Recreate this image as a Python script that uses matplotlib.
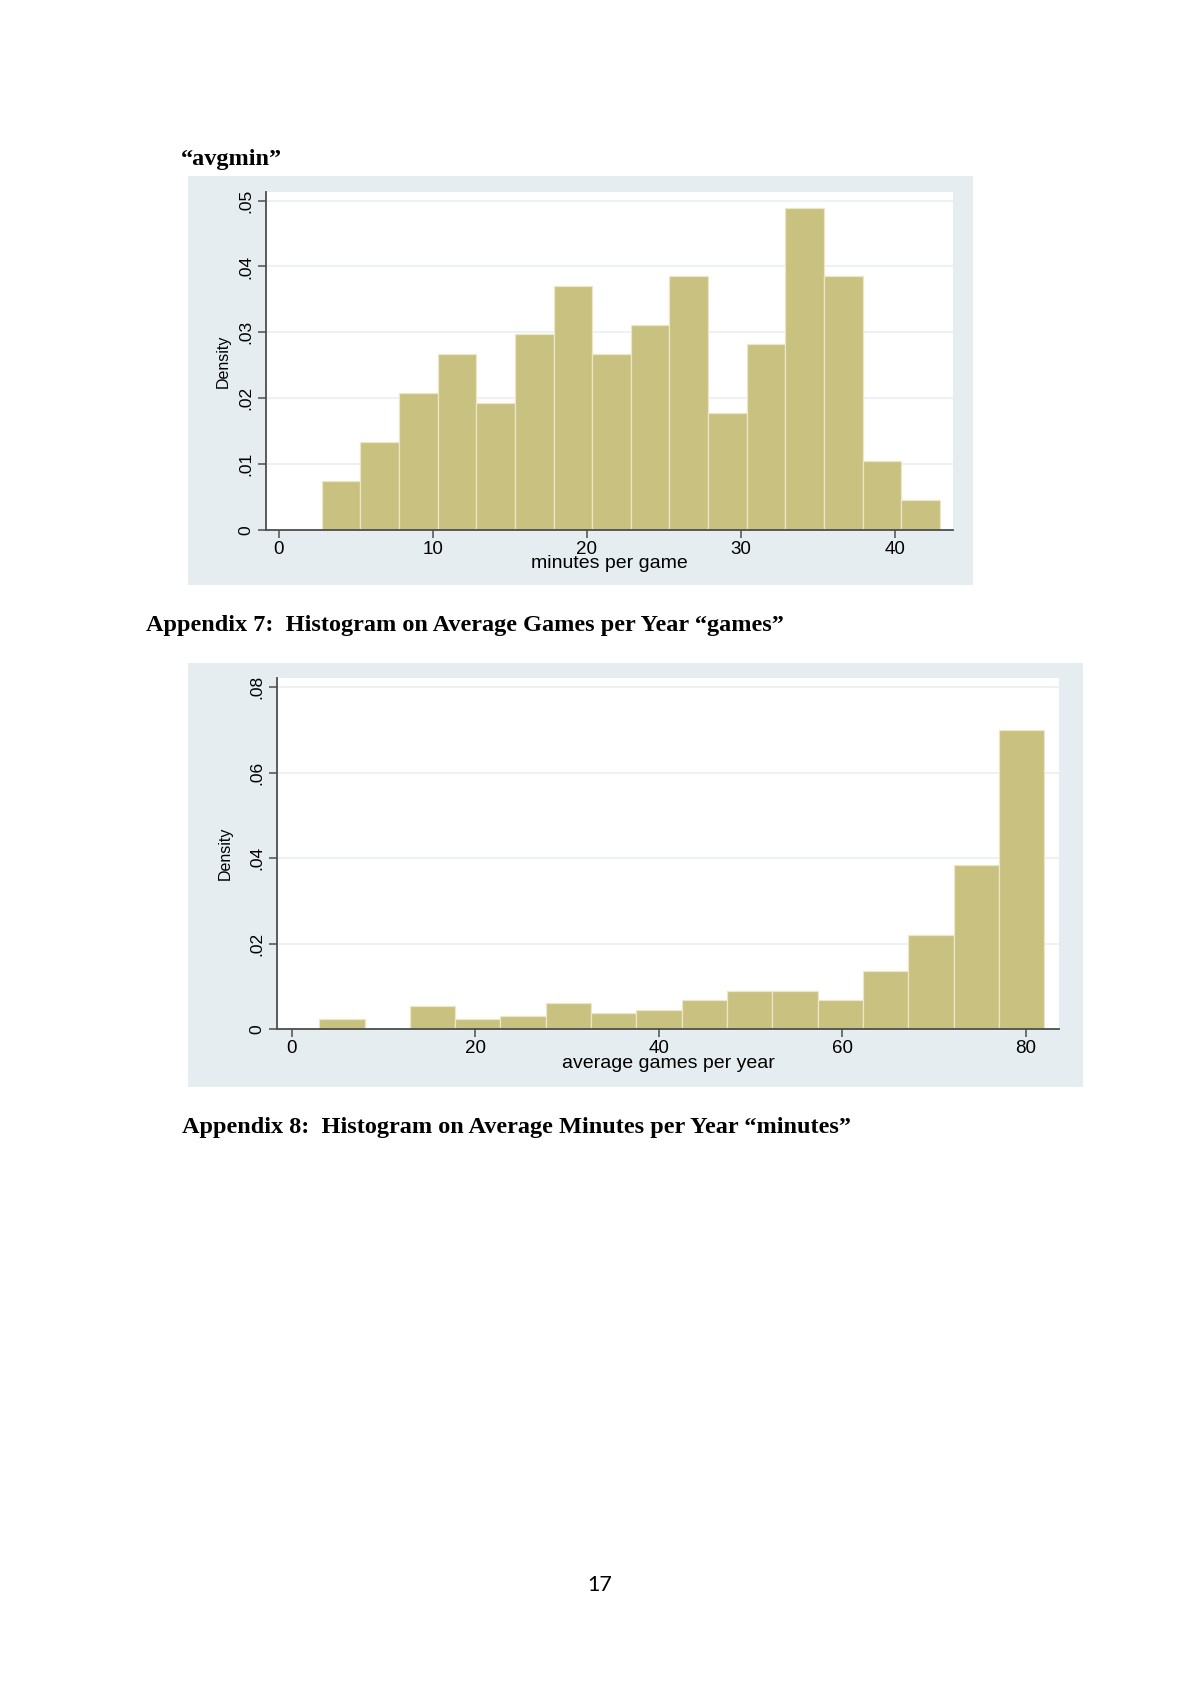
import matplotlib.pyplot as plt
from matplotlib.patches import Rectangle

# page size in pixels
W, H = 1200, 1697

# --- "avgmin" histogram (minutes per game) ---
avgmin_start = 2.8
avgmin_width = 2.507
avgmin_density = [0.0074, 0.0134, 0.0208, 0.0267, 0.0192, 0.0297, 0.0370, 0.0267,
                  0.0311, 0.0385, 0.0178, 0.0282, 0.0488, 0.0385, 0.0104, 0.0045]
avgmin_yticks = [0, 0.01, 0.02, 0.03, 0.04, 0.05]
avgmin_ylabels = ["0", ".01", ".02", ".03", ".04", ".05"]
avgmin_xticks = [0, 10, 20, 30, 40]

# --- "games" histogram (average games per year) ---
games_start = 3.0
games_width = 4.9375
games_density = [0.0023, 0.0, 0.0053, 0.0023, 0.0031, 0.0062, 0.0037, 0.0045,
                 0.0068, 0.0090, 0.0090, 0.0068, 0.0136, 0.0219, 0.0384, 0.0700]
games_yticks = [0, 0.02, 0.04, 0.06, 0.08]
games_ylabels = ["0", ".02", ".04", ".06", ".08"]
games_xticks = [0, 20, 40, 60, 80]

BAR = "#c9c17f"
PANEL = "#e6edf0"
GRID = "#e9eff1"
AXIS = "#4d4d4d"


def box(x0, y0, x1, y1):
    return [x0 / W, 1 - y1 / H, (x1 - x0) / W, (y1 - y0) / H]


def panel(fig, x0, y0, x1, y1):
    fig.add_artist(Rectangle((x0 / W, 1 - y1 / H), (x1 - x0) / W, (y1 - y0) / H,
                             transform=fig.transFigure, facecolor=PANEL,
                             edgecolor="none", zorder=0))


def histogram(fig, rect, start, width, density, yticks, ylabels, xticks,
              xlim, ylim, xlabel, ylab_x, xlab_y):
    ax = fig.add_axes(box(*rect))
    ax.set_facecolor("white")
    lefts = [start + i * width for i in range(len(density))]
    ax.bar(lefts, density, width=width, align="edge", color=BAR,
           edgecolor="#ebe7c8", linewidth=0.9, zorder=2)
    ax.set_xlim(*xlim)
    ax.set_ylim(*ylim)
    ax.set_yticks(yticks)
    ax.set_yticklabels(ylabels, rotation=90, va="center")
    ax.set_xticks(xticks)
    for y in yticks[1:]:
        ax.axhline(y, color=GRID, linewidth=1.2, zorder=1)
    for s in ["top", "right"]:
        ax.spines[s].set_visible(False)
    for s in ["left", "bottom"]:
        ax.spines[s].set_color(AXIS)
        ax.spines[s].set_linewidth(1.3)
    ax.tick_params(axis="both", colors=AXIS, labelcolor="black", length=6,
                   width=1.1)
    ax.tick_params(axis="y", pad=3, labelsize=12.5)
    ax.tick_params(axis="x", pad=2, labelsize=13.5)
    for lab in ax.get_xticklabels() + ax.get_yticklabels():
        lab.set_family("Liberation Sans")
    cx = (rect[0] + rect[2]) / 2 / W
    cy = 1 - (rect[1] + rect[3]) / 2 / H
    fig.text(cx, 1 - xlab_y / H, xlabel, ha="center", va="center",
             fontsize=14, family="Liberation Sans")
    fig.text(ylab_x / W, cy, "Density", ha="center", va="center", rotation=90,
             fontsize=11.5, family="Liberation Sans")
    return ax


fig = plt.figure(figsize=(W / 100, H / 100), dpi=100)
fig.patch.set_facecolor("white")

serif = dict(family="Liberation Serif", weight="bold", fontsize=17.5)

fig.text(181 / W, 1 - 159 / H, "\u201cavgmin\u201d", ha="left", va="center", **serif)

panel(fig, 188, 176, 973, 585)
histogram(fig, (266, 192, 953, 530), avgmin_start, avgmin_width, avgmin_density,
          avgmin_yticks, avgmin_ylabels, avgmin_xticks,
          (-0.82, 43.76), (0, 0.0513), "minutes per game", 223, 564)

fig.text(146 / W, 1 - 626 / H,
         "Appendix 7:  Histogram on Average Games per Year \u201cgames\u201d",
         ha="left", va="center", **serif)

panel(fig, 188, 663, 1083, 1087)
histogram(fig, (277, 678, 1059, 1029), games_start, games_width, games_density,
          games_yticks, games_ylabels, games_xticks,
          (-1.6, 83.6), (0, 0.0822), "average games per year", 225, 1064)

fig.text(182 / W, 1 - 1127 / H,
         "Appendix 8:  Histogram on Average Minutes per Year \u201cminutes\u201d",
         ha="left", va="center", **serif)

fig.text(599.5 / W, 1 - 1585 / H, "17", ha="center", va="center",
         fontsize=15.5, family="Lato")

fig.savefig("out.png", dpi=100)
